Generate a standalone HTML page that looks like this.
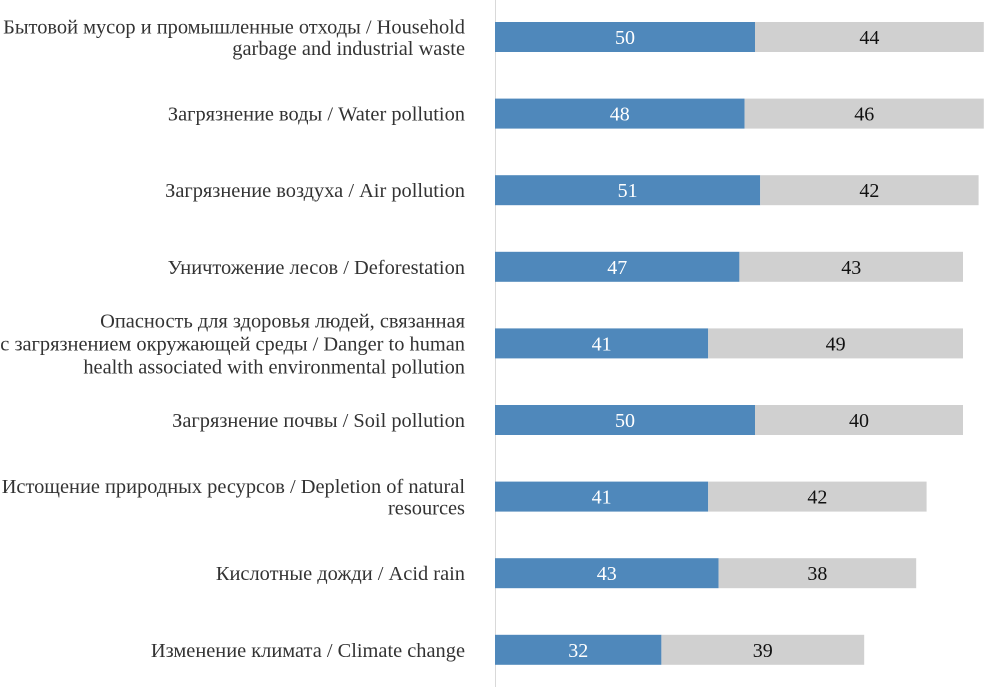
<!DOCTYPE html>
<html><head><meta charset="utf-8">
<style>
html,body{margin:0;padding:0;background:#fff;}
svg{display:block;}
text{font-family:"Liberation Serif","Noto Serif CJK SC",serif;}
</style></head>
<body>
<svg id="chart" width="984" height="687" viewBox="0 0 984 687" xmlns="http://www.w3.org/2000/svg">
<line x1="495.5" y1="0" x2="495.5" y2="687" stroke="#d9d9d9" stroke-width="1"/>
</svg>
<script>
const categories = [
  ["Бытовой мусор и промышленные отходы / Household","garbage and industrial waste"],
  ["Загрязнение воды / Water pollution"],
  ["Загрязнение воздуха / Air pollution"],
  ["Уничтожение лесов / Deforestation"],
  ["Опасность для здоровья людей, связанная","с загрязнением окружающей среды / Danger to human","health associated with environmental pollution"],
  ["Загрязнение почвы / Soil pollution"],
  ["Истощение природных ресурсов / Depletion of natural","resources"],
  ["Кислотные дожди / Acid rain"],
  ["Изменение климата / Climate change"]
];
const seriesA = [50,48,51,47,41,50,41,43,32];
const seriesB = [44,46,42,43,49,40,42,38,39];

const svg = document.getElementById('chart');
const NS = 'http://www.w3.org/2000/svg';
const x0 = 495, scale = 5.2;
const xPos = v => x0 + v * scale;
const yCenter = i => 37 + i * 76.6;
const barH = 30;

function mk(tag, attrs){ const e=document.createElementNS(NS,tag); for(const k in attrs) e.setAttribute(k,attrs[k]); return e; }

categories.forEach((lines,i)=>{
  const yc = yCenter(i);
  const a = seriesA[i], b = seriesB[i];
  const r1 = mk('rect',{x:xPos(0),y:yc-barH/2,width:xPos(a)-xPos(0),height:barH,fill:'#4f88bb'});
  
  
  svg.appendChild(r1);
  const r2 = mk('rect',{x:xPos(a),y:yc-barH/2,width:xPos(a+b)-xPos(a),height:barH,fill:'#d0d0d0'});
  
  
  svg.appendChild(r2);
  const t1 = mk('text',{x:(xPos(0)+xPos(a))/2,y:yc+7,'text-anchor':'middle','font-size':20,fill:'#fff'});
  t1.textContent = a;
  
  
  svg.appendChild(t1);
  const t2 = mk('text',{x:(xPos(a)+xPos(a+b))/2,y:yc+7,'text-anchor':'middle','font-size':20,fill:'#111'});
  t2.textContent = b;
  
  
  svg.appendChild(t2);
  const lh = lines.length===3 ? 23 : 21.5;
  const startY = yc + 7 - (lines.length-1)*lh/2;
  const lab = mk('text',{'text-anchor':'end','font-size':20.4,fill:'#333'});
  
  
  lines.forEach((ln,j)=>{
    const ts = mk('tspan',{x:465,y:startY+j*lh});
    ts.textContent = ln;
    lab.appendChild(ts);
  });
  svg.appendChild(lab);
});
</script>
</body></html>
